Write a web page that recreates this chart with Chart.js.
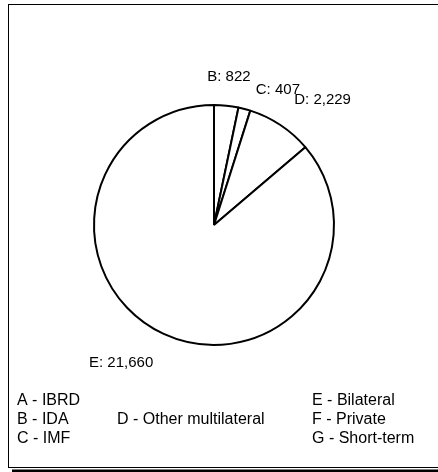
<!DOCTYPE html>
<html>
<head>
<meta charset="utf-8">
<script src="https://cdn.jsdelivr.net/npm/chart.js@4"></script>
<style>
  html, body { margin: 0; padding: 0; background: #fff; }
  #wrap { width: 438px; height: 472px; position: relative; }
</style>
</head>
<body>
<div id="wrap"><canvas id="mycanvas"></canvas></div>
<script>
// categories and values
var letters = ["A", "B", "C", "D", "E", "F", "G"];
var names = ["IBRD", "IDA", "IMF", "Other multilateral", "Bilateral", "Private", "Short-term"];
var values = [0, 822, 407, 2229, 21660, 0, 0];

// legend columns (indexes into letters/names) and the row each one sits on
var legendCols = [[0, 1, 2], [3], [4, 5, 6]];
var legendRows = [[0, 1, 2], [1], [0, 1, 2]];

var FAMILY = "'Liberation Sans', Arial, sans-serif";
var LABEL_SIZE = 15;
var LEGEND_SIZE = 16;

var framePlugin = {
    id: "frame",
    beforeDraw: function(chart) {
        var ctx = chart.ctx;
        ctx.save();
        ctx.fillStyle = "#fff";
        ctx.fillRect(0, 0, chart.width, chart.height);
        // drop shadow
        ctx.fillStyle = "#000";
        ctx.fillRect(12, 469.5, chart.width, 4);
        ctx.strokeStyle = "#000";
        ctx.lineWidth = 1;
        ctx.strokeRect(8.5, 4.5, chart.width + 10, 463);
        ctx.restore();
    }
};

var labelPlugin = {
    id: "sliceLabels",
    afterDraw: function(chart) {
        var ctx = chart.ctx;
        var meta = chart.getDatasetMeta(0);
        var placed = [];
        ctx.save();
        ctx.font = LABEL_SIZE + "px " + FAMILY;
        ctx.fillStyle = "#000";
        ctx.textAlign = "left";
        ctx.textBaseline = "alphabetic";
        meta.data.forEach(function(arc, i) {
            if (!values[i]) return;
            var p = arc.getProps(["x", "y", "startAngle", "endAngle", "outerRadius"], true);
            var mid = (p.startAngle + p.endAngle) / 2;
            var r = p.outerRadius + 25;
            var ax = p.x + Math.cos(mid) * r;
            var ay = p.y + Math.sin(mid) * r;
            var txt = letters[i] + ": " + values[i].toLocaleString("en-US");
            var w = ctx.measureText(txt).width;
            var h = LABEL_SIZE * 0.716;
            var sx = Math.cos(mid), sy = Math.sin(mid);
            var left = sx > 0.2 ? ax : (sx < -0.2 ? ax - w : ax - w / 2);
            var top = sy < -0.3 ? ay - h : (sy > 0.3 ? ay : ay - h / 2);
            // keep a little air round the previous labels, drop below if too close
            placed.forEach(function(b) {
                var ox = Math.min(left + w, b.x + b.w + 6) - Math.max(left, b.x - 6);
                var oy = Math.min(top + h, b.y + b.h) - Math.max(top, b.y);
                if (ox > 0 && oy > 2) {
                    top = b.y + b.h + 2;
                    left += 5;
                }
            });
            placed.push({ x: left, y: top, w: w, h: h });
            ctx.fillText(txt, left, top + h);
        });

        // text legend at the bottom
        ctx.font = LEGEND_SIZE + "px " + FAMILY;
        var colX = [17, 117, 312];
        var rowY = [405, 424, 443];
        legendCols.forEach(function(col, c) {
            col.forEach(function(idx, k) {
                ctx.fillText(letters[idx] + " - " + names[idx], colX[c], rowY[legendRows[c][k]]);
            });
        });
        ctx.restore();
    }
};

var ctx = document.getElementById("mycanvas");
var pieChart = new Chart(ctx, {
    type: "pie",
    data: {
        labels: letters,
        datasets: [{
            data: values,
            backgroundColor: "#fff",
            borderColor: "#000",
            borderWidth: 2,
            hoverOffset: 0
        }]
    },
    options: {
        responsive: true,
        maintainAspectRatio: false,
        animation: false,
        events: [],
        layout: { padding: { left: 93, right: 103, top: 104, bottom: 126 } },
        plugins: {
            legend: { display: false },
            tooltip: { enabled: false }
        }
    },
    plugins: [framePlugin, labelPlugin]
});
</script>
</body>
</html>
